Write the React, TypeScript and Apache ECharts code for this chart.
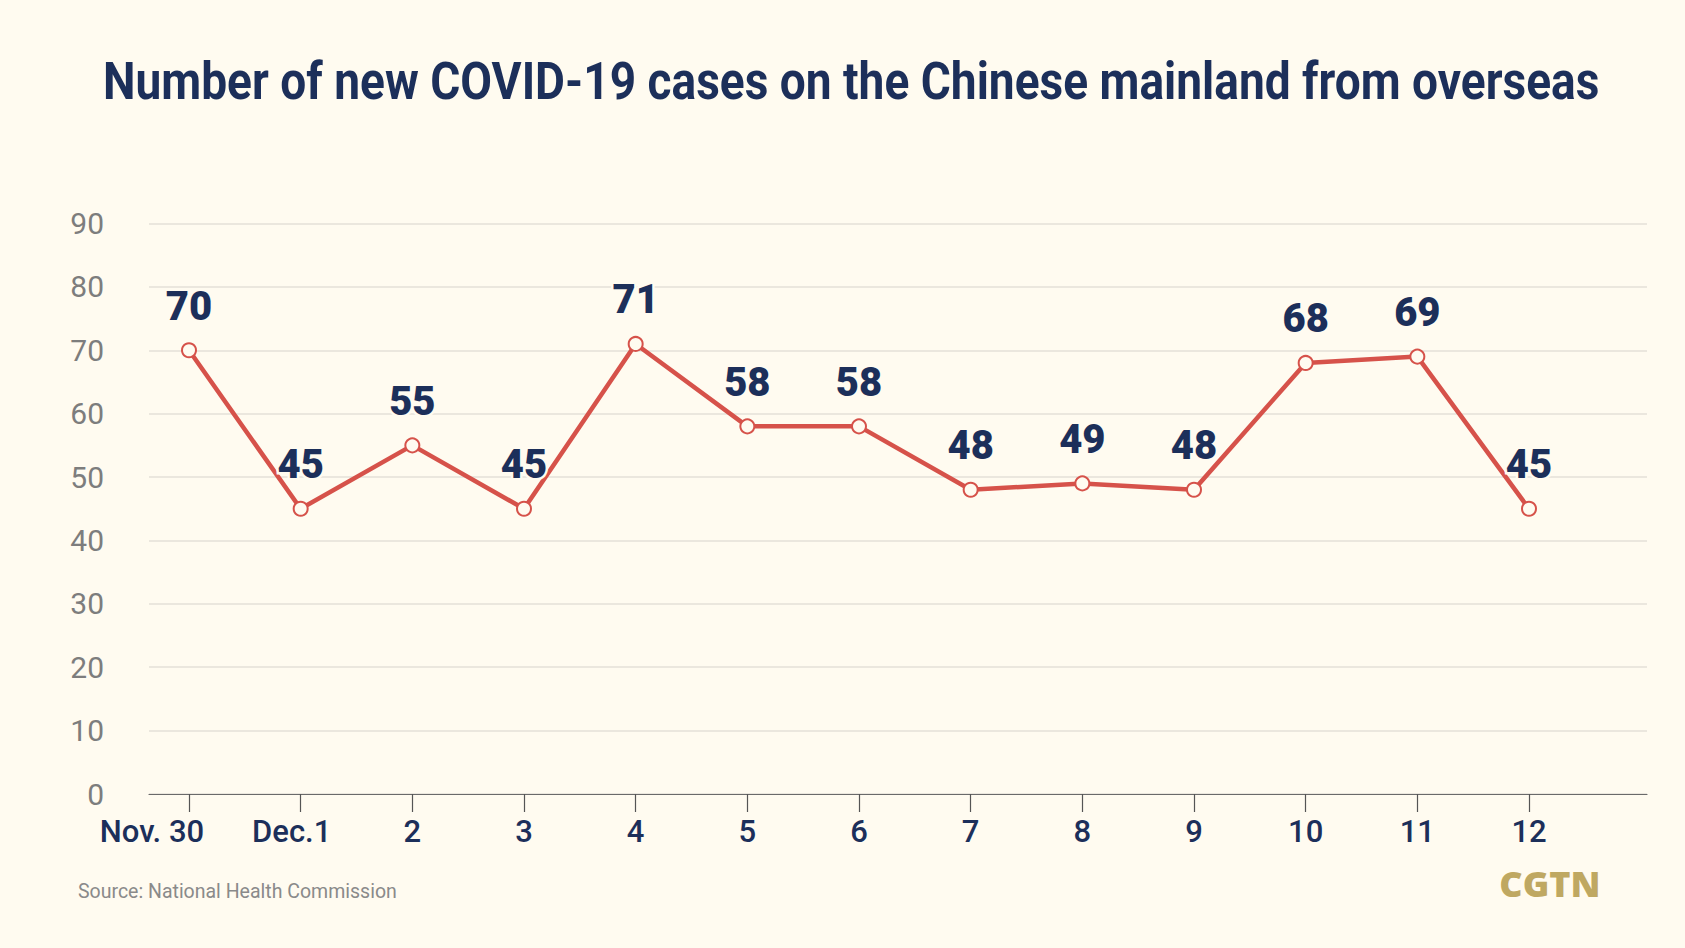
import React, { useEffect, useRef } from "react";
import * as echarts from "echarts";

const titleText = "Number of new COVID-19 cases on the Chinese mainland from overseas";
const sourceText = "Source: National Health Commission";
const logoText = "CGTN";
const categories = ["Nov. 30", "Dec.1", "2", "3", "4", "5", "6", "7", "8", "9", "10", "11", "12"];
const cases = [70, 45, 55, 45, 71, 58, 58, 48, 49, 48, 68, 69, 45];
const yMin = 0;
const yMax = 90;
const yStep = 10;

const BG = "#fffbf0";
const NAVY = "#1c2f5a";
const RED = "#d6524a";

export default function App() {
  const ref = useRef<HTMLDivElement>(null);
  useEffect(() => {
    if (!ref.current) return;
    const chart = echarts.init(ref.current, undefined, { renderer: "svg" });
    const option: any = {
      animation: false,
      backgroundColor: BG,
      grid: [
        { left: 149, right: 38, top: 223.5, bottom: 154 },
        { left: 189, right: 156, top: 223.5, bottom: 154 },
      ],
      xAxis: [
        {
          gridIndex: 0,
          type: "value",
          min: 0,
          max: 1,
          axisLine: { show: true, lineStyle: { color: "#6a6a6a", width: 1.2 } },
          axisTick: { show: false },
          axisLabel: { show: false },
          splitLine: { show: false },
        },
        {
          gridIndex: 1,
          type: "category",
          data: categories,
          boundaryGap: false,
          axisLine: { show: false },
          axisTick: { show: true, interval: 0, length: 18, lineStyle: { color: "#555", width: 1.2 } },
          axisLabel: {
            interval: 0,
            margin: 22,
            color: NAVY,
            fontFamily: "Roboto",
            fontWeight: 500,
            fontSize: 31,
            formatter: (v: string, i: number) =>
              i === 0 ? "{a|" + v + "}" : i === 1 ? "{b|" + v + "}" : v,
            rich: {
              a: { fontSize: 31, color: NAVY, fontWeight: 500, fontFamily: "Roboto", padding: [0, 74, 0, 0] },
              b: { fontSize: 31, color: NAVY, fontWeight: 500, fontFamily: "Roboto", padding: [0, 18, 0, 0] },
            },
          },
          splitLine: { show: false },
        },
      ],
      yAxis: [
        {
          gridIndex: 0,
          type: "value",
          min: yMin,
          max: yMax,
          interval: yStep,
          axisLine: { show: false },
          axisTick: { show: false },
          axisLabel: {
            margin: 45,
            color: "#7d7d7d",
            fontSize: 30,
            fontFamily: "Roboto",
            fontWeight: 400,
          },
          splitLine: { show: true, lineStyle: { color: "#e4e1d8", width: 1.5 } },
        },
        {
          gridIndex: 1,
          type: "value",
          min: yMin,
          max: yMax,
          interval: yStep,
          show: false,
          splitLine: { show: false },
        },
      ],
      series: [
        {
          type: "line",
          xAxisIndex: 1,
          yAxisIndex: 1,
          data: cases,
          symbol: "circle",
          symbolSize: 14,
          lineStyle: { color: RED, width: 4.5 },
          itemStyle: { color: BG, borderColor: RED, borderWidth: 2 },
          label: {
            show: true,
            position: "top",
            distance: 16,
            color: NAVY,
            fontFamily: "Roboto",
            fontWeight: 900,
            fontSize: 40,
            textBorderColor: BG,
            textBorderWidth: 5,
          },
          z: 3,
        },
      ],
      graphic: [
        {
          type: "group",
          x: 103,
          y: 81,
          scaleX: 0.886,
          children: [
            {
              type: "text",
              style: {
                text: titleText,
                x: 0,
                y: 0,
                fill: NAVY,
                fontFamily: "Roboto",
                fontWeight: 700,
                fontSize: 52,
                textAlign: "left",
                textVerticalAlign: "middle",
              },
            },
          ],
        },
        {
          type: "text",
          x: 78,
          y: 891,
          style: {
            text: sourceText,
            fill: "#8a8a8a",
            fontFamily: "Roboto",
            fontSize: 19.5,
            textAlign: "left",
            textVerticalAlign: "middle",
          },
        },
        {
          type: "text",
          x: 1550,
          y: 883,
          style: {
            text: logoText,
            fill: "#bfa862",
            fontFamily: "Open Sans",
            fontWeight: 800,
            fontSize: 36,
            textAlign: "center",
            textVerticalAlign: "middle",
          },
        },
      ],
    };
    chart.setOption(option);
    return () => chart.dispose();
  }, []);
  return (
    <div
      ref={ref}
      style={{ position: "fixed", left: 0, top: 0, width: 1685, height: 948 }}
    />
  );
}
